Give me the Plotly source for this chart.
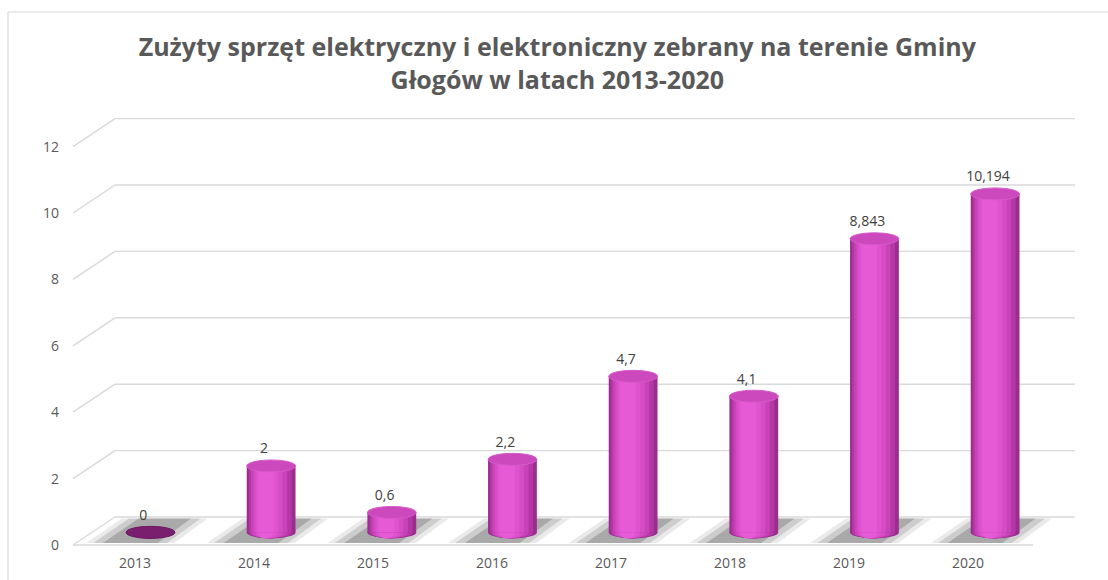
import plotly.graph_objects as go

# ---- data -------------------------------------------------------------
years = ["2013", "2014", "2015", "2016", "2017", "2018", "2019", "2020"]
values = [0, 2, 0.6, 2.2, 4.7, 4.1, 8.843, 10.194]
y_ticks = [0, 2, 4, 6, 8, 10, 12]
title_text = ("Zużyty sprzęt elektryczny i elektroniczny zebrany na terenie Gminy"
              "<br>Głogów w latach 2013-2020")

# ---- geometry of the pseudo-3D frame (pixels -> axis units) -----------
W, H = 1108, 580
PLOT_L, PLOT_R, PLOT_T, PLOT_B = 70, 1090, 105, 550
FLOOR_PX = 545            # pixel row of value 0 on the front plane
FIRST_TICK_PX = 135       # pixel column of the first category
PX_X = 119.0              # pixels per category
PX_Y = 33.2               # pixels per value unit

x_min = -(FIRST_TICK_PX - PLOT_L) / PX_X
x_max = x_min + (PLOT_R - PLOT_L) / PX_X
y_min = -(PLOT_B - FLOOR_PX) / PX_Y
y_max = y_min + (PLOT_B - PLOT_T) / PX_Y

depth_x = 42 / PX_X
depth_y = 28 / PX_Y
front_l = x_min + 3 / PX_X
front_r = x_min + (1033 - PLOT_L) / PX_X
back_l = front_l + depth_x
back_r = x_min + (1075 - PLOT_L) / PX_X

bar_w = 0.41
bar_base = 0.38
ell_h = 6 / PX_Y
label_gap = 3 / PX_Y
positions = [i + 0.13 + 0.014 * i for i in range(len(years))]

grid_col = "#d9d9d9"
text_col = "#595959"
font_family = "Open Sans"

# cylinder shading: outer (dark rim) -> inner (highlight), highlight left of centre
shade_frac = [1.0, 0.88, 0.74, 0.60, 0.46, 0.32]
shade_col = ["#9a2d8e", "#b437a5", "#c843b8", "#d54cc5", "#df53cf", "#e65ad6"]
shade_shift = [-(1 - f) * 0.16 * bar_w for f in shade_frac]

fig = go.Figure()
shapes = []

# back wall grid + depth connectors
for v in y_ticks:
    shapes.append(dict(type="line", xref="x", yref="y", layer="below",
                       x0=back_l, x1=back_r, y0=v + depth_y, y1=v + depth_y,
                       line=dict(color=grid_col, width=1.4)))
    shapes.append(dict(type="line", xref="x", yref="y", layer="below",
                       x0=front_l, x1=back_l, y0=v, y1=v + depth_y,
                       line=dict(color=grid_col, width=1.4)))
# front edge of the floor
shapes.append(dict(type="line", xref="x", yref="y", layer="below",
                   x0=front_l, x1=front_r, y0=0, y1=0,
                   line=dict(color=grid_col, width=1.4)))

# soft floor shadows behind each cylinder
def shadow_path(c, grow):
    pts = [(c - 0.46 - grow, 0.06), (c + 0.12 + grow, 0.06),
           (c + 0.40 + grow, 0.80), (c - 0.16 - grow, 0.80)]
    return "M " + " L ".join(f"{x:.4f},{y:.4f}" for x, y in pts) + " Z"

for c in positions:
    for grow, col in [(0.08, "rgba(150,150,150,0.20)"),
                      (0.02, "rgba(130,130,130,0.28)"),
                      (-0.06, "rgba(110,110,110,0.38)")]:
        shapes.append(dict(type="path", xref="x", yref="y", layer="below",
                           path=shadow_path(c, grow), fillcolor=col,
                           line=dict(width=0)))

# rounded bottoms of the cylinders
for c in positions:
    for f, col, s in zip(shade_frac, shade_col, shade_shift):
        w = bar_w * f
        shapes.append(dict(type="circle", xref="x", yref="y", layer="below",
                           x0=c + s - w / 2, x1=c + s + w / 2,
                           y0=bar_base - ell_h, y1=bar_base + ell_h,
                           fillcolor=col, line=dict(width=0)))

# cylinder bodies as overlaid bars of decreasing width
for f, col, s in zip(shade_frac, shade_col, shade_shift):
    fig.add_trace(go.Bar(
        x=[c + s for c in positions], y=values, base=[bar_base] * len(values),
        width=bar_w * f, marker=dict(color=col, line=dict(width=0)),
        hoverinfo="skip", showlegend=False))

# flat tops of the cylinders
for c, v in zip(positions, values):
    top = bar_base + v
    fill = "#7a1f6e" if v == 0 else "#cc48bd"
    rim = "#6a1a60" if v == 0 else "#d659c9"
    shapes.append(dict(type="circle", xref="x", yref="y", layer="above",
                       x0=c - bar_w / 2, x1=c + bar_w / 2,
                       y0=top - ell_h, y1=top + ell_h,
                       fillcolor=fill, line=dict(color=rim, width=1)))

# value labels
labels = [f"{v:g}".replace(".", ",") for v in values]
fig.add_trace(go.Scatter(
    x=[c - 0.06 for c in positions],
    y=[bar_base + v + ell_h + label_gap for v in values],
    mode="text", text=labels, textposition="top center",
    textfont=dict(family=font_family, size=14, color="#404040"),
    hoverinfo="skip", showlegend=False))

# outer frame of the chart area
def px_x(p):
    return (p - PLOT_L) / (PLOT_R - PLOT_L)

def px_y(p):
    return (PLOT_B - p) / (PLOT_B - PLOT_T)

shapes.append(dict(type="line", xref="paper", yref="paper",
                   x0=px_x(8), x1=px_x(8), y0=px_y(12), y1=px_y(H + 5),
                   line=dict(color=grid_col, width=1.2)))
shapes.append(dict(type="line", xref="paper", yref="paper",
                   x0=px_x(8), x1=px_x(W + 5), y0=px_y(12), y1=px_y(12),
                   line=dict(color=grid_col, width=1.2)))

fig.update_layout(
    width=W, height=H, autosize=False,
    margin=dict(l=PLOT_L, r=W - PLOT_R, t=PLOT_T, b=H - PLOT_B, autoexpand=False),
    paper_bgcolor="white", plot_bgcolor="white",
    barmode="overlay", showlegend=False,
    shapes=shapes,
    title=dict(text=title_text, x=0.503, xanchor="center",
               y=1 - 56 / H, yanchor="middle", xref="container", yref="container",
               font=dict(family=font_family, size=25, color=text_col, weight="bold")),
    xaxis=dict(range=[x_min, x_max], tickvals=list(range(len(years))), ticktext=years,
               showgrid=False, zeroline=False, showline=False, ticks="",
               ticklabelstandoff=3, automargin=False,
               tickfont=dict(family=font_family, size=14, color=text_col),
               fixedrange=True),
    yaxis=dict(range=[y_min, y_max], tickvals=y_ticks,
               showgrid=False, zeroline=False, showline=False, ticks="",
               ticklabelstandoff=10, automargin=False,
               tickfont=dict(family=font_family, size=14, color=text_col),
               fixedrange=True),
)

fig.write_html("out.html")
